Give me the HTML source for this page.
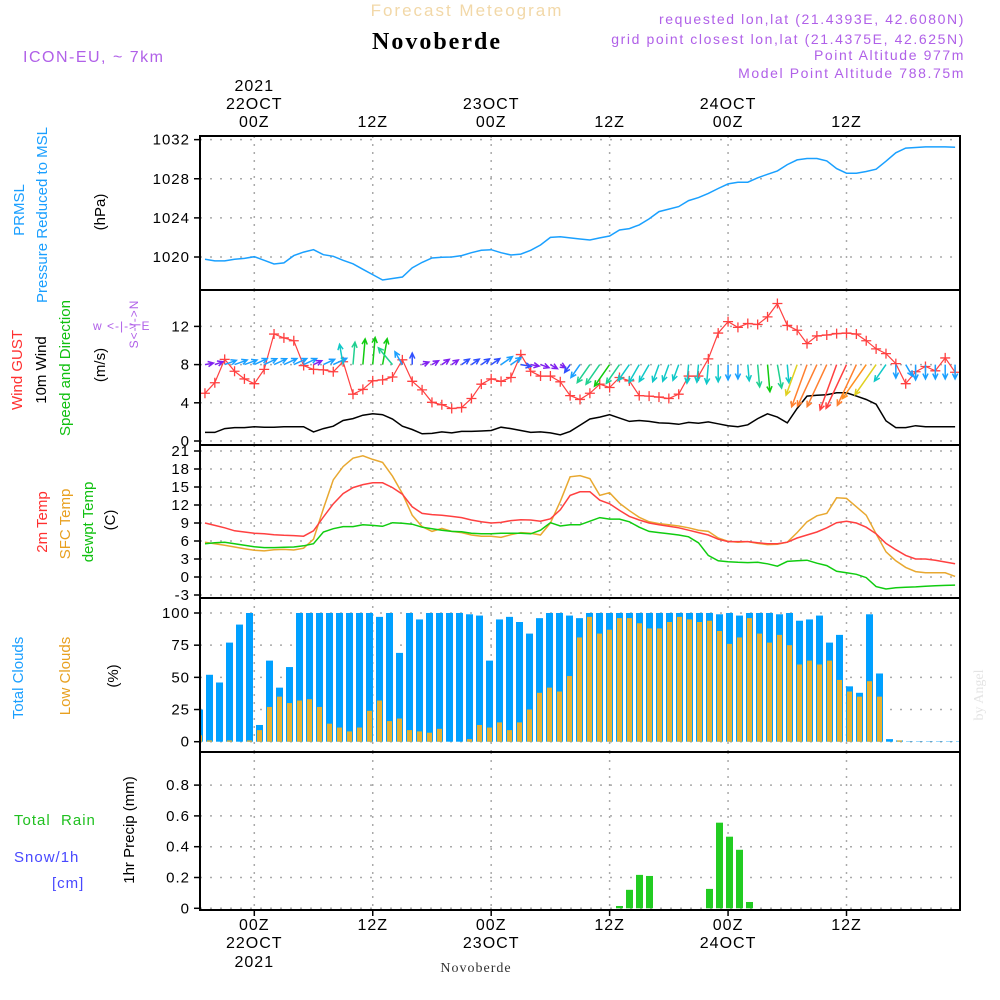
<!DOCTYPE html>
<html><head><meta charset="utf-8"><style>
html,body{margin:0;padding:0;background:#fff;}
svg{display:block;font-family:"Liberation Sans",sans-serif;}
</style></head><body>
<svg id="chart" width="1000" height="1000" viewBox="0 0 1000 1000" xmlns="http://www.w3.org/2000/svg">
<rect x="0" y="0" width="1000" height="1000" fill="#fff"/>
<text x="467" y="16" text-anchor="middle" fill="#f2d8a8" font-size="17" letter-spacing="2">Forecast Meteogram</text>
<text x="437" y="49" text-anchor="middle" fill="#000" font-size="24" font-weight="bold" font-family="Liberation Serif,serif" letter-spacing="2">Novoberde</text>
<text x="23" y="62" fill="#b060e8" font-size="16" letter-spacing="1.5">ICON-EU, ~ 7km</text>
<g fill="#b060e8" font-size="14" text-anchor="end" letter-spacing="1.6">
<text x="965" y="24">requested lon,lat (21.4393E, 42.6080N)</text>
<text x="965" y="44">grid point closest lon,lat (21.4375E, 42.625N)</text>
<text x="965" y="60">Point Altitude 977m</text>
<text x="965" y="78">Model Point Altitude 788.75m</text>
</g>
<g id="grid"></g>
<g id="marks"></g>
<g id="frames" fill="none" stroke="#000" stroke-width="2"></g>
<g id="axes" font-size="15" fill="#000"></g>
<g font-size="15">
<text transform="translate(24,210) rotate(-90)" text-anchor="middle" fill="#1a9fff">PRMSL</text>
<text transform="translate(47,215) rotate(-90)" text-anchor="middle" fill="#1a9fff">Pressure Reduced to MSL</text>
<text transform="translate(105,212) rotate(-90)" text-anchor="middle" fill="#000">(hPa)</text>
<text transform="translate(22,370) rotate(-90)" text-anchor="middle" fill="#ff3030">Wind GUST</text>
<text transform="translate(46,370) rotate(-90)" text-anchor="middle" fill="#000">10m Wind</text>
<text transform="translate(70,368) rotate(-90)" text-anchor="middle" fill="#10c010">Speed and Direction</text>
<text transform="translate(105,365) rotate(-90)" text-anchor="middle" fill="#000">(m/s)</text>
<text x="93" y="330" fill="#b060e8" font-size="12" letter-spacing="1">w &lt;-|-&gt; E</text>
<text transform="translate(138,324) rotate(-90)" text-anchor="middle" fill="#b060e8" font-size="12" letter-spacing="1">S&lt;-|-&gt;N</text>
<text transform="translate(47,522) rotate(-90)" text-anchor="middle" fill="#ff3030">2m Temp</text>
<text transform="translate(70,524) rotate(-90)" text-anchor="middle" fill="#e8a020">SFC Temp</text>
<text transform="translate(93,522) rotate(-90)" text-anchor="middle" fill="#10c010">dewpt Temp</text>
<text transform="translate(115,520) rotate(-90)" text-anchor="middle" fill="#000">(C)</text>
<text transform="translate(23,678) rotate(-90)" text-anchor="middle" fill="#1a9fff">Total Clouds</text>
<text transform="translate(70,676) rotate(-90)" text-anchor="middle" fill="#e8a020">Low Clouds</text>
<text transform="translate(118,676) rotate(-90)" text-anchor="middle" fill="#000">(%)</text>
<text x="14" y="825" fill="#20c020" letter-spacing="1">Total&#160;&#160;Rain</text>
<text x="14" y="862" fill="#4848ff" letter-spacing="1">Snow/1h</text>
<text x="52" y="888" fill="#4848ff" letter-spacing="1">[cm]</text>
<text transform="translate(134,830) rotate(-90)" text-anchor="middle" fill="#000">1hr Precip (mm)</text>
<text transform="translate(983,695) rotate(-90)" text-anchor="middle" fill="#e4e4e4" font-size="14" font-family="Liberation Serif,serif">by Angel</text>
<text x="476" y="972" text-anchor="middle" fill="#333" font-size="14" font-family="Liberation Serif,serif" letter-spacing="1">Novoberde</text>
</g>
</svg>
<script>
// hours from 00Z 22OCT, -5 .. 71
const hours = [];
for (let h = -5; h <= 71; h++) hours.push(h);
const pressure = [1019.76,1019.6,1019.6,1019.76,1019.86,1020.03,1019.66,1019.28,1019.4,1020.14,1020.5,1020.75,1020.24,1020.07,1019.66,1019.3,1018.74,1018.2,1017.65,1017.8,1017.95,1018.9,1019.45,1019.9,1019.97,1020,1020.14,1020.44,1020.68,1020.75,1020.44,1020.2,1020.3,1020.68,1021.23,1022.0,1022.08,1021.95,1021.84,1021.74,1021.95,1022.15,1022.76,1022.9,1023.28,1023.9,1024.64,1024.9,1025.15,1025.77,1026.07,1026.5,1027,1027.47,1027.65,1027.65,1028.1,1028.46,1028.8,1029.45,1029.93,1030.07,1030.07,1029.83,1029.04,1028.57,1028.57,1028.74,1028.98,1029.8,1030.65,1031.13,1031.2,1031.26,1031.26,1031.26,1031.23];
const gust = [5.0,6.1,8.55,7.3,6.5,6.0,7.5,11.2,10.8,10.5,7.9,7.5,7.45,7.25,8.3,4.9,5.4,6.3,6.4,6.7,8.5,6.25,5.35,4.05,3.8,3.4,3.5,4.45,5.95,6.5,6.25,6.65,9.05,7.3,6.8,6.8,6.2,4.75,4.35,5.0,5.95,5.6,6.65,6.3,4.75,4.7,4.6,4.45,4.9,6.8,6.8,8.6,11.3,12.5,11.9,12.3,12.2,13.0,14.4,12.1,11.6,10.2,11.0,11.1,11.25,11.3,11.2,10.5,9.65,9.15,8.1,6.0,7.25,7.8,7.35,8.7,7.2];
const windSpeed = [0.9,0.9,1.3,1.4,1.4,1.5,1.45,1.45,1.5,1.5,1.5,0.95,1.3,1.55,2.15,2.35,2.7,2.85,2.75,2.3,1.55,1.2,0.75,0.8,0.95,0.85,1.0,1.0,1.05,1.1,1.45,1.3,1.1,0.9,0.95,0.85,0.65,1.0,1.65,2.3,2.5,2.75,2.4,2.05,2.15,2.05,1.9,1.85,1.75,1.95,1.85,2.0,1.8,1.6,1.5,1.7,2.35,2.85,2.5,1.9,3.4,4.7,4.8,4.85,5.05,5.05,4.7,4.35,3.85,2.1,1.4,1.4,1.6,1.5,1.5,1.5,1.5];
const windDirTo = [80,70,70,70,70,65,65,65,65,65,65,65,65,65,350,5,5,5,10,320,330,0,70,60,55,55,55,55,55,55,55,55,100,100,110,120,120,215,215,215,215,215,215,215,210,210,200,200,200,185,185,185,180,180,180,175,175,175,170,175,200,200,205,205,200,205,205,215,215,215,180,150,180,180,180,180,180];
const temp2m = [9.0,8.6,8.2,7.7,7.5,7.3,7.2,7.05,6.95,6.9,6.8,7.7,10,12.2,13.9,14.9,15.4,15.7,15.7,14.9,13.8,11.7,10.6,10.4,10.3,10.1,9.9,9.5,9.2,9.0,9.1,9.4,9.55,9.5,9.3,9.7,11.2,13.6,14.2,14.2,12.8,12.2,11.1,10.1,9.5,9.0,8.7,8.45,8.2,7.8,7.4,7.0,6.3,5.9,5.9,5.9,5.7,5.55,5.55,5.8,6.5,7.0,7.5,8.2,9.05,9.3,9.0,8.3,7.2,5.6,4.55,3.6,3.0,3.0,2.8,2.5,2.2];
const sfcTemp = [5.8,5.55,5.3,5.0,4.7,4.45,4.35,4.55,4.6,4.5,4.8,6.3,11.4,16.2,18.4,19.8,20.2,19.6,19.1,16.8,13.9,10.3,8.4,7.6,8.1,7.6,7.4,7.0,6.8,6.8,6.6,7.05,7.4,7.3,7.0,9.0,12.6,16.7,16.9,16.4,13.6,14.05,12.3,11.05,9.95,9.2,8.9,8.7,8.5,8.2,7.8,7.6,6.5,5.95,5.8,5.9,5.6,5.4,5.45,5.8,7.4,9.2,10.2,10.6,13.2,13.1,11.7,10.3,7.2,4.2,2.7,1.6,0.9,0.7,0.7,0.7,0.1];
const dewpt = [5.55,5.7,5.8,5.55,5.3,5.05,4.9,4.9,4.95,5.0,5.2,5.55,7.5,8.05,8.4,8.4,8.7,8.6,8.45,9.05,8.95,8.8,8.3,8.05,7.8,7.6,7.55,7.3,7.2,7.2,7.3,7.3,7.3,7.2,7.8,9.05,8.5,8.7,8.7,9.3,9.9,9.65,9.65,9.2,8.3,7.6,7.4,7.2,7.0,6.7,5.7,3.6,2.7,2.55,2.45,2.4,2.45,2.2,1.8,2.6,2.7,2.8,2.3,1.9,0.95,0.7,0.45,-0.1,-1.6,-2.0,-1.8,-1.7,-1.65,-1.55,-1.45,-1.4,-1.35];
const totalClouds = [25,52,46,77,91,100,13,63,42,58,100,100,100,100,100,100,100,100,97,100,69,100,95,100,100,100,100,99,98,63,95,97,93,84,96,100,100,98,96,100,100,100,100,100,100,100,100,100,100,100,100,100,99,100,98,100,100,100,99,100,94,95,98,77,83,43,38,99,53,2,1,0.3,0.3,0.3,0.3,0.3,0.3];
const lowClouds = [5,1,0,1,0,1,9,27,35,30,32,33,27,14,11,8,11,24,32,16,18,9,8,7,10,0,0,2,13,11,15,9,15,25,38,42,39,51,81,97,84,87,96,96,92,88,88,93,97,95,93,94,86,76,81,96,84,77,83,75,60,63,60,63,48,39,35,47,35,0,1,0,0,0,0,0,0];
const precip = [0,0,0,0,0,0,0,0,0,0,0,0,0,0,0,0,0,0,0,0,0,0,0,0,0,0,0,0,0,0,0,0,0,0,0,0,0,0,0,0,0,0,0.015,0.12,0.217,0.21,0,0,0,0,0,0.126,0.556,0.465,0.38,0.041,0,0,0,0,0,0,0,0,0,0,0,0,0,0,0,0,0,0,0,0,0];
const pTicks = [1020,1024,1028,1032];
const wTicks = [0,4,8,12];
const tTicks = [-3,0,3,6,9,12,15,18,21];
const cTicks = [0,25,50,75,100];
const rTicks = [0,0.2,0.4,0.6,0.8];
const timeTicks = [0,12,24,36,48,60];
const timeLabels = ["00Z","12Z","00Z","12Z","00Z","12Z"];
const dateLabels = ["22OCT","","23OCT","","24OCT",""];

const NS = "http://www.w3.org/2000/svg";
const X0 = 200, X1 = 960;
const xs = t => 254.3 + 9.87 * t;
const xb = t => 249.5 + 10 * t;
const panels = [
  {top:136,bot:290},{top:290,bot:445},{top:445,bot:598},{top:598,bot:752},{top:752,bot:910}
];
const yP = p => 257 - (p - 1020) * 9.78;
const yW = v => 441 - v * 9.55;
const yT = v => 577 - v * 6;
const yC = v => 741.7 - v * 1.287;
const yR = v => 908.3 - v * 154;

function el(tag, attrs, parent) {
  const e = document.createElementNS(NS, tag);
  for (const k in attrs) e.setAttribute(k, attrs[k]);
  parent.appendChild(e);
  return e;
}
const grid = document.getElementById('grid');
const marks = document.getElementById('marks');
const frames = document.getElementById('frames');
const axes = document.getElementById('axes');

const defs = el('defs', {}, document.getElementById('chart'));
panels.forEach((p, i) => {
  const cp = el('clipPath', {id: 'clip' + i}, defs);
  el('rect', {x: X0, y: p.top, width: X1 - X0, height: p.bot - p.top}, cp);
});

function hgrid(ticks, yf, fmt, name) {
  ticks.forEach(v => {
    const y = yf(v);
    const g = el('line', {x1: X0, x2: X1, y1: y, y2: y, stroke: '#aaa', 'stroke-width': 1.5, 'stroke-dasharray': '2 8'}, grid);
    
    
    const tk = el('line', {x1: X0 - 6, x2: X0, y1: y, y2: y, stroke: '#000', 'stroke-width': 1.5}, axes);
    
    
    const tx = el('text', {x: X0 - 10, y: y + 5, 'text-anchor': 'end', 'letter-spacing': 1}, axes);
    tx.textContent = fmt(v);
    
    
  });
}
hgrid(pTicks, yP, v => String(v), 'pressure');
hgrid(wTicks, yW, v => String(v), 'wind');
hgrid(tTicks, yT, v => String(v), 'temp');
hgrid(cTicks, yC, v => String(v), 'clouds');
hgrid(rTicks, yR, v => v === 0 ? '0' : v.toFixed(1), 'precip');

panels.forEach((p, i) => {
  timeTicks.forEach(t => {
    const x = xs(t);
    const g = el('line', {x1: x, x2: x, y1: p.top, y2: p.bot, stroke: '#aaa', 'stroke-width': 1.5, 'stroke-dasharray': '2 6'}, grid);
    
    
  });
  const r = el('rect', {x: X0, y: p.top, width: X1 - X0, height: p.bot - p.top}, frames);
  
  
});
timeTicks.forEach((t, i) => {
  const x = xs(t);
  const a = el('text', {x: x, y: 127, 'text-anchor': 'middle', 'font-size': 16, 'letter-spacing': 1}, axes);
  a.textContent = timeLabels[i];
  
  
  const b = el('text', {x: x, y: 930, 'text-anchor': 'middle', 'font-size': 16, 'letter-spacing': 1}, axes);
  b.textContent = timeLabels[i];
  
  
  if (dateLabels[i]) {
    const c = el('text', {x: x, y: 109, 'text-anchor': 'middle', 'font-size': 16, 'letter-spacing': 1}, axes);
    c.textContent = dateLabels[i];
    
    
    const d = el('text', {x: x, y: 948, 'text-anchor': 'middle', 'font-size': 16, 'letter-spacing': 1}, axes);
    d.textContent = dateLabels[i];
    
    
  }
  const tk1 = el('line', {x1: x, x2: x, y1: 910, y2: 916, stroke: '#000', 'stroke-width': 1.5}, axes);
  
  
});
[['2021', 91], ['2021', 967]].forEach(([s, y]) => {
  const e = el('text', {x: xs(0), y: y, 'text-anchor': 'middle', 'font-size': 16, 'letter-spacing': 1}, axes);
  e.textContent = s;
  
  
});

function poly(vals, yf, color, name, clip, w) {
  const pts = hours.map((h, i) => xs(h).toFixed(1) + ',' + yf(vals[i]).toFixed(1)).join(' ');
  const e = el('polyline', {points: pts, fill: 'none', stroke: color, 'stroke-width': w || 1.5, 'clip-path': 'url(#clip' + clip + ')'}, marks);
  
  
}
poly(pressure, yP, '#1aa0ff', 'pressure-line', 0);

hours.forEach((h, i) => {
  const x = xb(h);
  const b = el('rect', {x: x - 3.5, y: yC(totalClouds[i]), width: 7, height: yC(0) - yC(totalClouds[i]), fill: '#00a0ff', 'clip-path': 'url(#clip3)'}, marks);
  
  
  const l = el('rect', {x: x - 2.5, y: yC(lowClouds[i]), width: 5, height: yC(0) - yC(lowClouds[i]), fill: '#e8b030', 'clip-path': 'url(#clip3)'}, marks);
  
  
  if (precip[i] > 0) {
    const r = el('rect', {x: x - 3.5, y: yR(precip[i]), width: 7, height: yR(0) - yR(precip[i]), fill: '#22cc22'}, marks);
    
    
  }
});

poly(sfcTemp, yT, '#e8a830', 'sfc-temp-line', 2);
poly(temp2m, yT, '#ff4040', 'temp-2m-line', 2);
poly(dewpt, yT, '#10cc10', 'dewpoint-line', 2);

poly(windSpeed, yW, '#000', 'wind-speed-line', 1);
poly(gust, yW, '#ff4040', 'gust-line', 1, 1.2);
hours.forEach((h, i) => {
  const x = xs(h), y = yW(gust[i]);
  const m = el('path', {d: `M${x-5},${y}H${x+5}M${x},${y-5}V${y+5}`, stroke: '#ff4040', 'stroke-width': 1.3, 'clip-path': 'url(#clip1)'}, marks);
  
  
});
function windColor(s) {
  if (s < 1.0) return '#8020f0';
  if (s < 1.3) return '#3050ff';
  if (s < 1.7) return '#1aa0ff';
  if (s < 2.3) return '#10c8c8';
  if (s < 2.6) return '#20d090';
  if (s < 3.3) return '#10cc10';
  if (s < 4.0) return '#e0d020';
  if (s < 4.6) return '#ff9020';
  if (s < 4.9) return '#ff8030';
  return '#ff4040';
}
hours.forEach((h, i) => {
  const x = xs(h), y = yW(8);
  const L = windSpeed[i] * 9.55;
  const a = windDirTo[i] * Math.PI / 180;
  const ex = x + L * Math.sin(a), ey = y - L * Math.cos(a);
  const hl = 6, sp = 0.45;
  const h1x = ex - hl * Math.sin(a - sp), h1y = ey + hl * Math.cos(a - sp);
  const h2x = ex - hl * Math.sin(a + sp), h2y = ey + hl * Math.cos(a + sp);
  const ar = el('path', {d: `M${x},${y}L${ex},${ey}M${h1x},${h1y}L${ex},${ey}L${h2x},${h2y}`, stroke: windColor(windSpeed[i]), 'stroke-width': 1.5, fill: 'none', 'clip-path': 'url(#clip1)'}, marks);
  
  
});
</script>
</body></html>
